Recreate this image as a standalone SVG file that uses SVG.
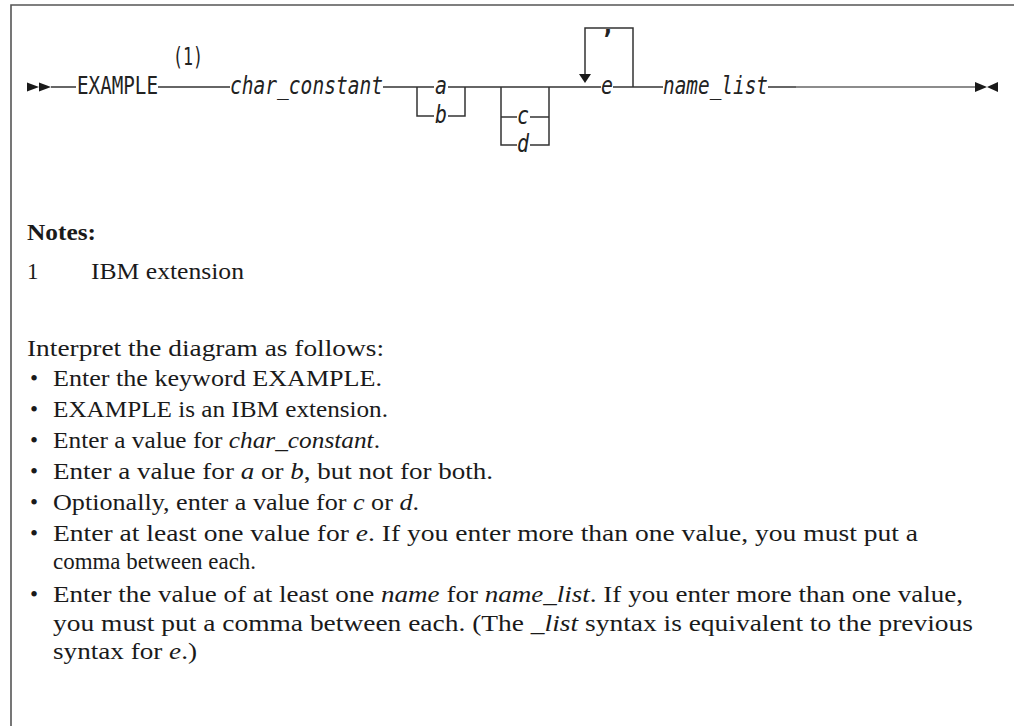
<svg xmlns="http://www.w3.org/2000/svg" width="1014" height="726" viewBox="0 0 1014 726">
<style>
.mono{font-family:"DejaVu Sans Mono","Liberation Mono",monospace;font-size:24px;fill:#222}
.it{font-style:italic}
.ln{fill:none;stroke:#333;stroke-width:1.5}
.ah{fill:#1a1a1a}
.body{font-family:"Liberation Serif","Times New Roman",serif;font-size:23px;fill:#1a1a1a}
.b{font-weight:bold}
.i{font-style:italic}
</style>
<rect width="1014" height="726" fill="#fff"/>
<path d="M1014,5 H11 V726" fill="none" stroke="#555" stroke-width="1.6"/>

<g id="connectors">
<polygon class="ah" points="27,82.5 39,87 27,91.5"/>
<polygon class="ah" points="39,82.5 51,87 39,91.5"/>
<path class="ln" d="M51,87 H76"/>
<path class="ln" d="M158,87 H230"/>
<path class="ln" d="M383,87 H434"/>
<path class="ln" d="M417,87 V116 H434"/>
<path class="ln" d="M448,116 H465 V87"/>
<path class="ln" d="M448,87 H601"/>
<path class="ln" d="M501,87 V145 H517"/>
<path class="ln" d="M501,117 H517"/>
<path class="ln" d="M530,117 H549"/>
<path class="ln" d="M530,145 H549 V87"/>
<path class="ln" d="M633,87 V28 H585 V75"/>
<polygon class="ah" points="579,74 591,74 585,83"/>
<path class="ln" d="M613,87 H663"/>
<path class="ln" d="M768,87 H796" stroke="#111"/>
<path d="M796,87 H975" fill="none" stroke="#666" stroke-width="1.5"/>
<polygon class="ah" points="975,82 987,87 975,92"/>
<polygon class="ah" points="998,82 987,87 998,92"/>
</g>

<g id="node-example"><text class="mono" x="77" y="94" textLength="81" lengthAdjust="spacingAndGlyphs">EXAMPLE</text></g>
<g id="note-ref"><text class="mono" x="173" y="65" textLength="30" lengthAdjust="spacingAndGlyphs">(1)</text></g>
<g id="node-char-constant"><text class="mono it" x="230" y="94" textLength="153" lengthAdjust="spacingAndGlyphs">char_constant</text></g>
<g id="node-a"><text class="mono it" x="441" y="94" text-anchor="middle" textLength="12" lengthAdjust="spacingAndGlyphs">a</text></g>
<g id="node-b"><text class="mono it" x="441" y="123" text-anchor="middle" textLength="12" lengthAdjust="spacingAndGlyphs">b</text></g>
<g id="node-c"><text class="mono it" x="523" y="124" text-anchor="middle" textLength="12" lengthAdjust="spacingAndGlyphs">c</text></g>
<g id="node-d"><text class="mono it" x="523" y="152" text-anchor="middle" textLength="12" lengthAdjust="spacingAndGlyphs">d</text></g>
<g id="node-comma"><text class="mono" x="608" y="34" text-anchor="middle" font-weight="bold">,</text></g>
<g id="node-e"><text class="mono it" x="607" y="94" text-anchor="middle" textLength="12" lengthAdjust="spacingAndGlyphs">e</text></g>
<g id="node-name-list"><text class="mono it" x="663" y="94" textLength="105" lengthAdjust="spacingAndGlyphs">name_list</text></g>

<g id="notes">
<text class="body b" x="27" y="240" textLength="69" lengthAdjust="spacingAndGlyphs">Notes:</text>
<text class="body" x="27" y="279">1</text>
<text class="body" x="91" y="279" textLength="153" lengthAdjust="spacingAndGlyphs">IBM extension</text>
<text class="body" x="27" y="356" textLength="357" lengthAdjust="spacingAndGlyphs">Interpret the diagram as follows:</text>
<text class="body" x="30" y="386">•</text>
<text class="body" x="53" y="386" textLength="329" lengthAdjust="spacingAndGlyphs">Enter the keyword EXAMPLE.</text>
<text class="body" x="30" y="417">•</text>
<text class="body" x="53" y="417" textLength="335" lengthAdjust="spacingAndGlyphs">EXAMPLE is an IBM extension.</text>
<text class="body" x="30" y="448">•</text>
<text class="body" x="53" y="448" textLength="327" lengthAdjust="spacingAndGlyphs">Enter a value for <tspan class="i">char_constant</tspan>.</text>
<text class="body" x="30" y="479">•</text>
<text class="body" x="53" y="479" textLength="440" lengthAdjust="spacingAndGlyphs">Enter a value for <tspan class="i">a</tspan> or <tspan class="i">b</tspan>, but not for both.</text>
<text class="body" x="30" y="510">•</text>
<text class="body" x="53" y="510" textLength="366" lengthAdjust="spacingAndGlyphs">Optionally, enter a value for <tspan class="i">c</tspan> or <tspan class="i">d</tspan>.</text>
<text class="body" x="30" y="541">•</text>
<text class="body" x="53" y="541" textLength="865" lengthAdjust="spacingAndGlyphs">Enter at least one value for <tspan class="i">e</tspan>. If you enter more than one value, you must put a</text>
<text class="body" x="53" y="569" textLength="203" lengthAdjust="spacingAndGlyphs">comma between each.</text>
<text class="body" x="30" y="602">•</text>
<text class="body" x="53" y="602" textLength="910" lengthAdjust="spacingAndGlyphs">Enter the value of at least one <tspan class="i">name</tspan> for <tspan class="i">name_list</tspan>. If you enter more than one value,</text>
<text class="body" x="53" y="631" textLength="920" lengthAdjust="spacingAndGlyphs">you must put a comma between each. (The <tspan class="i">_list</tspan> syntax is equivalent to the previous</text>
<text class="body" x="53" y="659" textLength="144" lengthAdjust="spacingAndGlyphs">syntax for <tspan class="i">e</tspan>.)</text>
</g>
</svg>
